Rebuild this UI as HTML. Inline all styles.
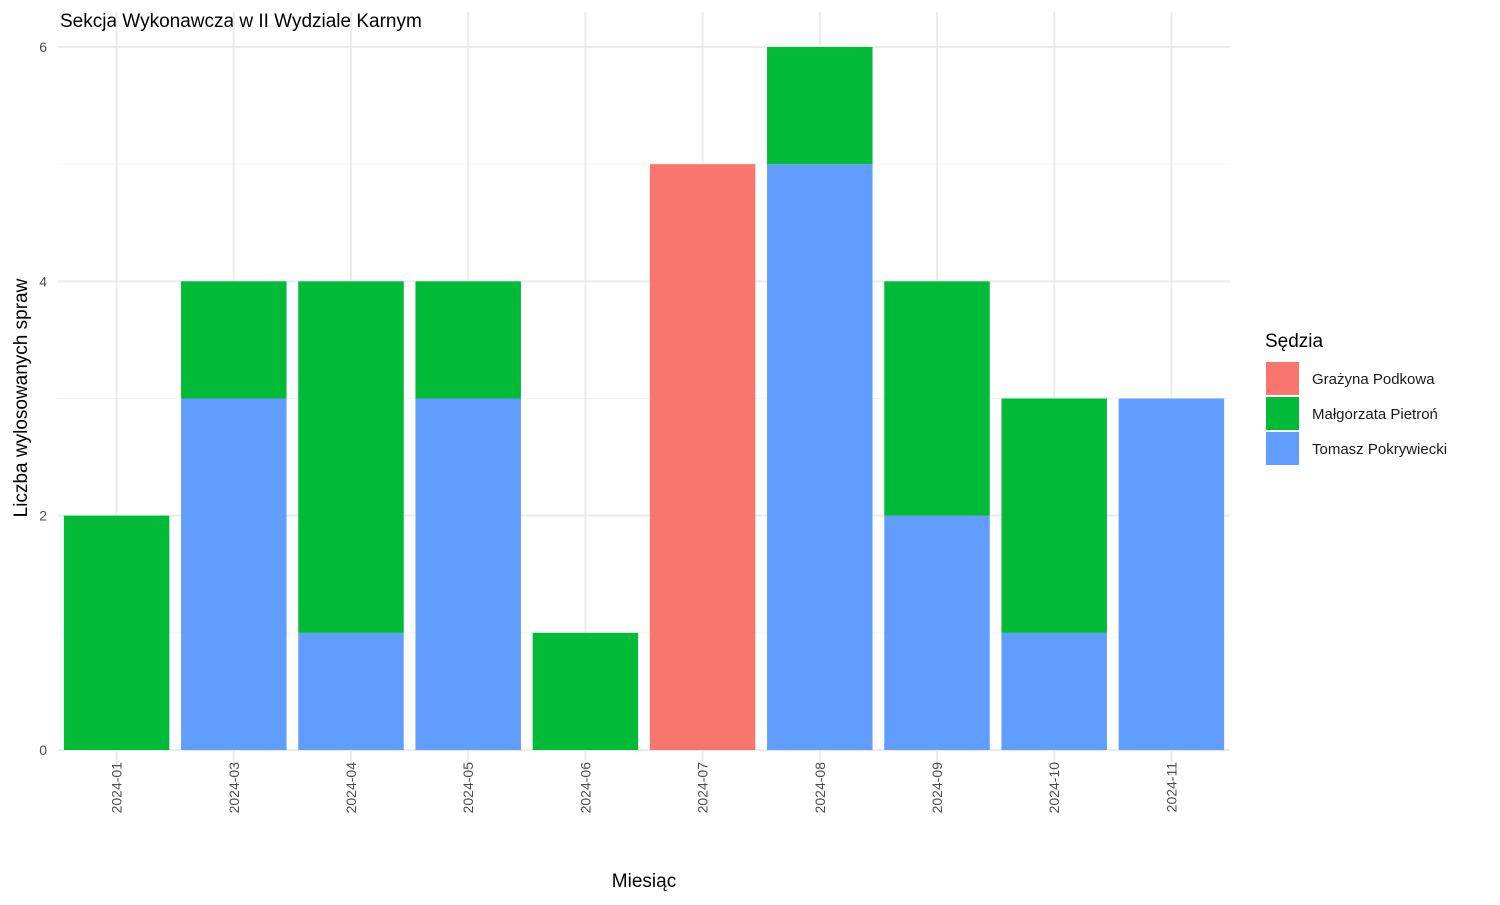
<!DOCTYPE html>
<html><head><meta charset="utf-8"><style>
body{margin:0;background:#fff;}
svg text{font-family:"Liberation Sans",sans-serif;}
</style></head><body>
<svg id="chart" width="1500" height="900" xmlns="http://www.w3.org/2000/svg">
<rect width="1500" height="900" fill="#fff"/>
<text x="60" y="27" font-size="19" fill="#000">Sekcja Wykonawcza w II Wydziale Karnym</text>
<g id="grid"></g><g id="bars"></g><g id="axes"></g>
<text x="644" y="887" font-size="19" text-anchor="middle" fill="#000">Miesiąc</text>
<text transform="translate(27,398) rotate(-90)" font-size="19" text-anchor="middle" fill="#000">Liczba wylosowanych spraw</text>
<g>
<text x="1265" y="347" font-size="19" fill="#000">Sędzia</text>
<rect x="1266" y="362" width="33" height="33" fill="#F8766D"/>
<text x="1312" y="384" font-size="15" fill="#1a1a1a">Grażyna Podkowa</text>
<rect x="1266" y="397" width="33" height="33" fill="#00BA38"/>
<text x="1312" y="419" font-size="15" fill="#1a1a1a">Małgorzata Pietroń</text>
<rect x="1266" y="432" width="33" height="33" fill="#619CFF"/>
<text x="1312" y="454" font-size="15" fill="#1a1a1a">Tomasz Pokrywiecki</text>
</g>
</svg>
<script>
const categories=["2024-01","2024-03","2024-04","2024-05","2024-06","2024-07","2024-08","2024-09","2024-10","2024-11"];
const tomasz=[0,3,1,3,0,0,5,2,1,3];
const malgorzata=[2,1,3,1,1,0,1,2,2,0];
const grazyna=[0,0,0,0,0,5,0,0,0,0];
const yTicks=[0,2,4,6];
const NS="http://www.w3.org/2000/svg";
const left=58,right=1230,y0=750,y6=47;
const step=(right-left)/categories.length, bw=step*0.9;
const xc=i=>left+step*(i+0.5);
const y=v=>y0-(y0-y6)*v/6;
function mk(tag,attrs,parent){const e=document.createElementNS(NS,tag);for(const k in attrs)e.setAttribute(k,attrs[k]);document.getElementById(parent).appendChild(e);return e;}
for(let v=1;v<6;v+=2){const l=mk('line',{x1:left,x2:right,y1:y(v),y2:y(v),stroke:'#f3f3f3','stroke-width':1},'grid');

}
yTicks.forEach(v=>{const l=mk('line',{x1:left,x2:right,y1:y(v),y2:y(v),stroke:'#ebebeb','stroke-width':2},'grid');


const t=mk('text',{x:47,y:y(v)+5,'font-size':14,'text-anchor':'end',fill:'#4d4d4d'},'axes');t.textContent=v;

});
categories.forEach((c,i)=>{const l=mk('line',{x1:xc(i),x2:xc(i),y1:y6-35,y2:y0+28,stroke:'#ebebeb','stroke-width':2},'grid');


const t=mk('text',{transform:`translate(${xc(i)+5},762) rotate(-90)`,'font-size':14,'text-anchor':'end',fill:'#4d4d4d'},'axes');t.textContent=c;


let base=0;
[[tomasz,'#619CFF','tomasz'],[malgorzata,'#00BA38','malgorzata'],[grazyna,'#F8766D','grazyna']].forEach(([arr,col,nm])=>{
 const v=arr[i];if(v>0){const r=mk('rect',{x:xc(i)-bw/2,y:y(base+v),width:bw,height:y(base)-y(base+v),fill:col},'bars');
 
 }
 base+=v;});
});
</script>
</body></html>
